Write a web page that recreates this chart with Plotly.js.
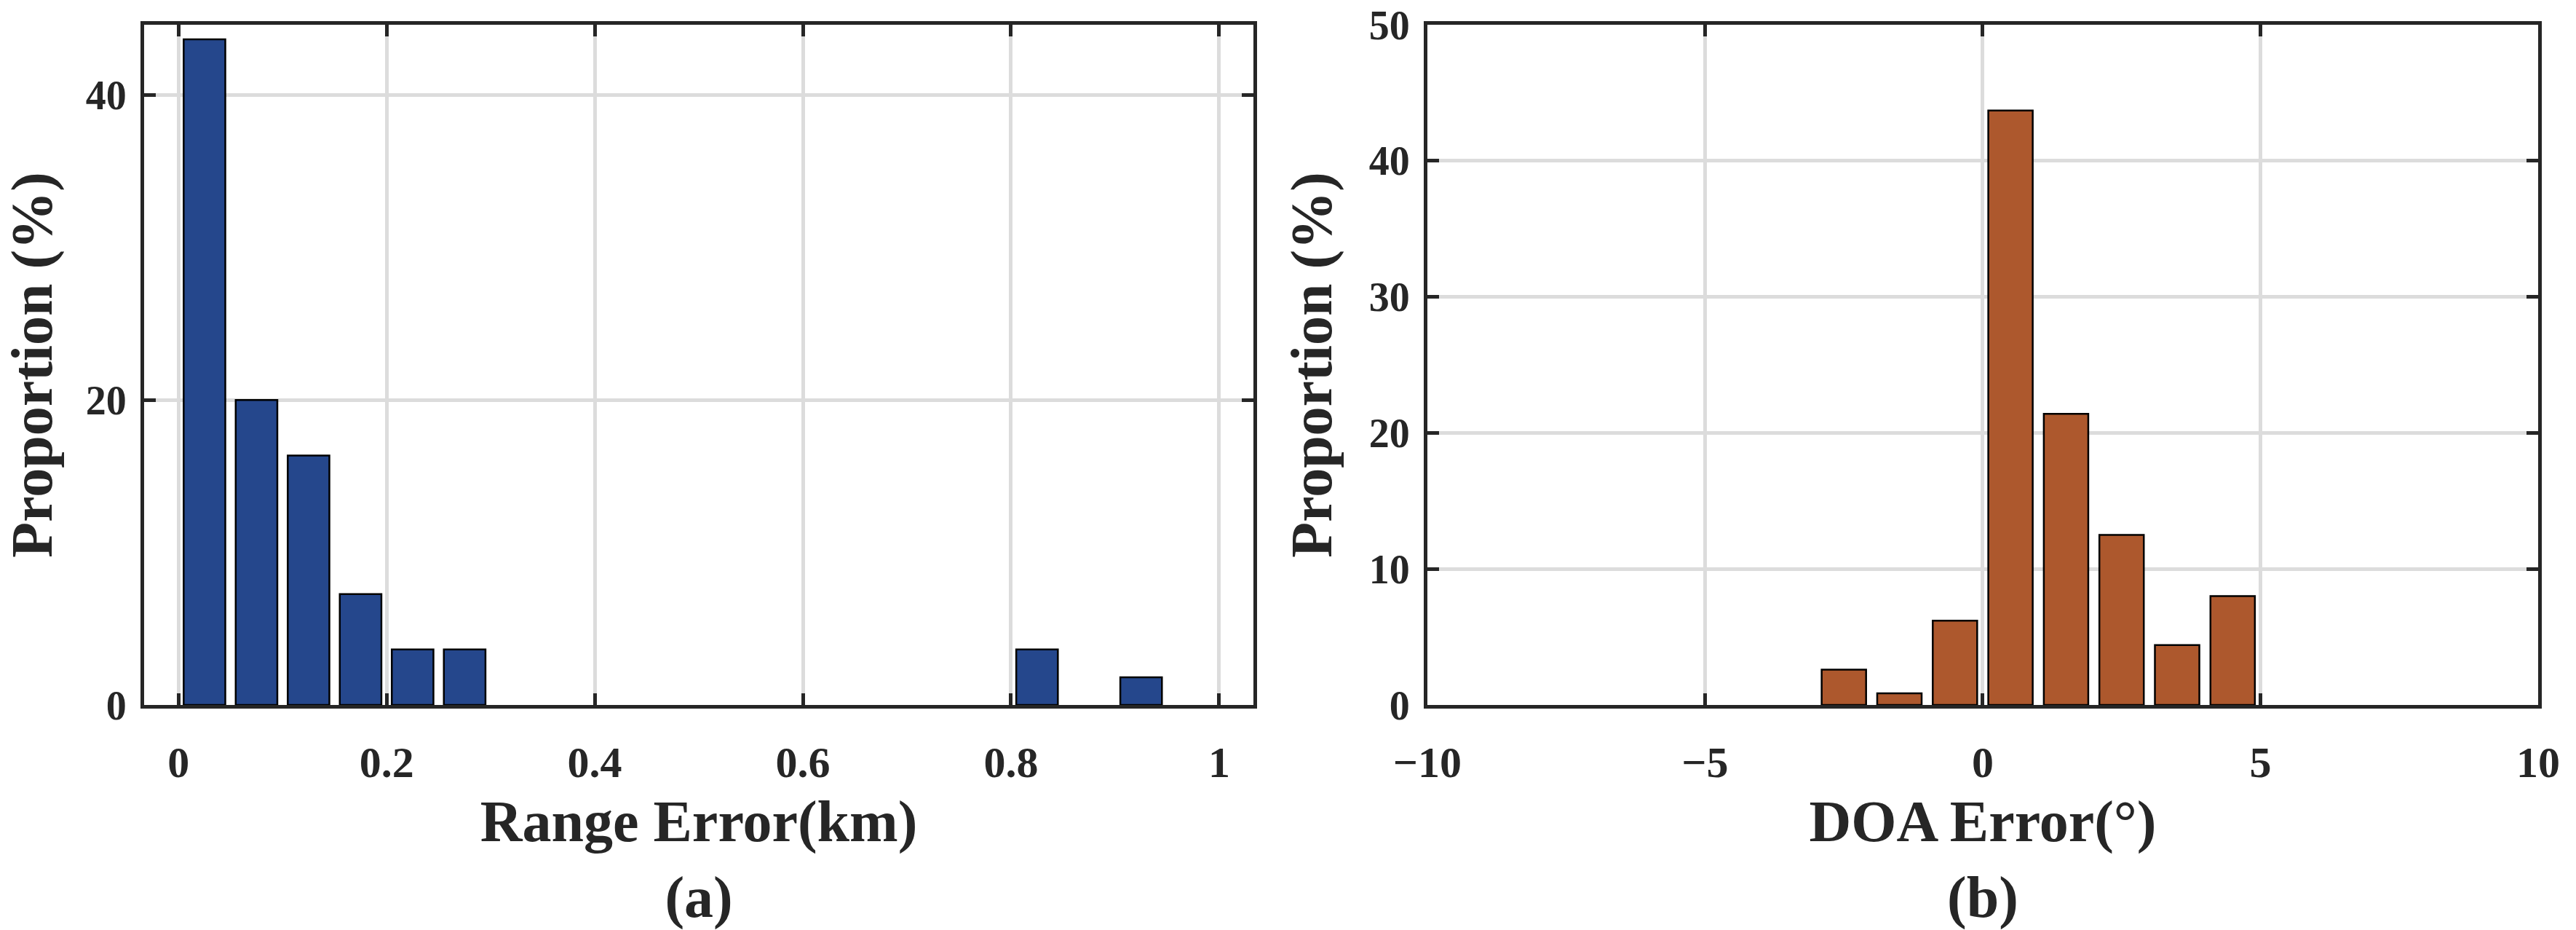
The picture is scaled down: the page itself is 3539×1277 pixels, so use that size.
<!DOCTYPE html>
<html>
<head>
<meta charset="utf-8">
<script src="https://cdn.plot.ly/plotly-3.0.1.min.js"></script>
<style>
  html, body { margin: 0; padding: 0; background: #fff; }
  #chart { width: 3539px; height: 1277px; }
</style>
</head>
<body>
<div id="chart"></div>
<script>
// Histogram bins (centres) and proportions
const rangeCenters = [0.025, 0.075, 0.125, 0.175, 0.225, 0.275, 0.825, 0.925];
const rangeProp = [43.64, 20.0, 16.36, 7.27, 3.64, 3.64, 3.64, 1.82];

const doaCenters = [-2.5, -1.5, -0.5, 0.5, 1.5, 2.5, 3.5, 4.5];
const doaProp = [2.6, 0.85, 6.2, 43.7, 21.4, 12.5, 4.4, 8.0];

const rangeTicks = [0, 0.2, 0.4, 0.6, 0.8, 1];
const doaTicks = [-10, -5, 0, 5, 10];
const propTicksA = [0, 20, 40];
const propTicksB = [0, 10, 20, 30, 40, 50];

const ink = '#262626';
const font = 'Liberation Serif, Times New Roman, serif';

const traceRange = {
    x: rangeCenters,
    y: rangeProp,
    type: 'bar',
    width: 0.04,
    marker: { color: '#25478c', line: { color: '#000', width: 2.5 } },
    xaxis: 'x',
    yaxis: 'y'
};

const traceDoa = {
    x: doaCenters,
    y: doaProp,
    type: 'bar',
    width: 0.8,
    marker: { color: '#ad582d', line: { color: '#000', width: 2.5 } },
    xaxis: 'x2',
    yaxis: 'y2'
};

// shared axis styling (box, inside ticks, light grid)
function axisStyle(extra) {
    return Object.assign({
        showline: true,
        linecolor: ink,
        linewidth: 5,
        mirror: 'ticks',
        ticks: 'inside',
        ticklen: 16,
        tickwidth: 5,
        tickcolor: ink,
        showgrid: true,
        gridcolor: '#dcdcdc',
        gridwidth: 5,
        zeroline: false,
        automargin: false,
        ticklabeloverflow: 'allow',
        tickfont: { family: font, size: 60, color: ink, weight: 'bold' }
    }, extra);
}

const titleFont = { family: font, size: 80, color: ink, weight: 'bold' };
const yTickFont = { family: font, size: 56, color: ink, weight: 'bold' };

const layout = {
    width: 3539,
    height: 1277,
    margin: { l: 198, r: 52, t: 34, b: 309 },
    paper_bgcolor: '#fff',
    plot_bgcolor: '#fff',
    showlegend: false,
    font: { family: font, color: ink },
    xaxis: axisStyle({
        domain: [0, 0.4634],
        range: [-0.033, 1.033],
        tickvals: rangeTicks,
        anchor: 'y',
        ticklabelstandoff: 22,
        title: { text: 'Range Error(km)<br>(a)', font: titleFont, standoff: 30 }
    }),
    yaxis: axisStyle({
        range: [0, 44.6],
        tickvals: propTicksA,
        anchor: 'x',
        ticklabelstandoff: 8,
        tickfont: yTickFont,
        title: { text: 'Proportion (%)', font: titleFont, standoff: 30 }
    }),
    xaxis2: axisStyle({
        domain: [0.536, 1],
        range: [-10, 10],
        tickvals: doaTicks,
        anchor: 'y2',
        ticklabelstandoff: 22,
        title: { text: 'DOA Error(°)<br>(b)', font: titleFont, standoff: 30 }
    }),
    yaxis2: axisStyle({
        range: [0, 50],
        tickvals: propTicksB,
        anchor: 'x2',
        ticklabelstandoff: 8,
        tickfont: yTickFont,
        title: { text: 'Proportion (%)', font: titleFont, standoff: 26 }
    })
};

Plotly.newPlot('chart', [traceRange, traceDoa], layout, { displayModeBar: false, staticPlot: true });
</script>
</body>
</html>
